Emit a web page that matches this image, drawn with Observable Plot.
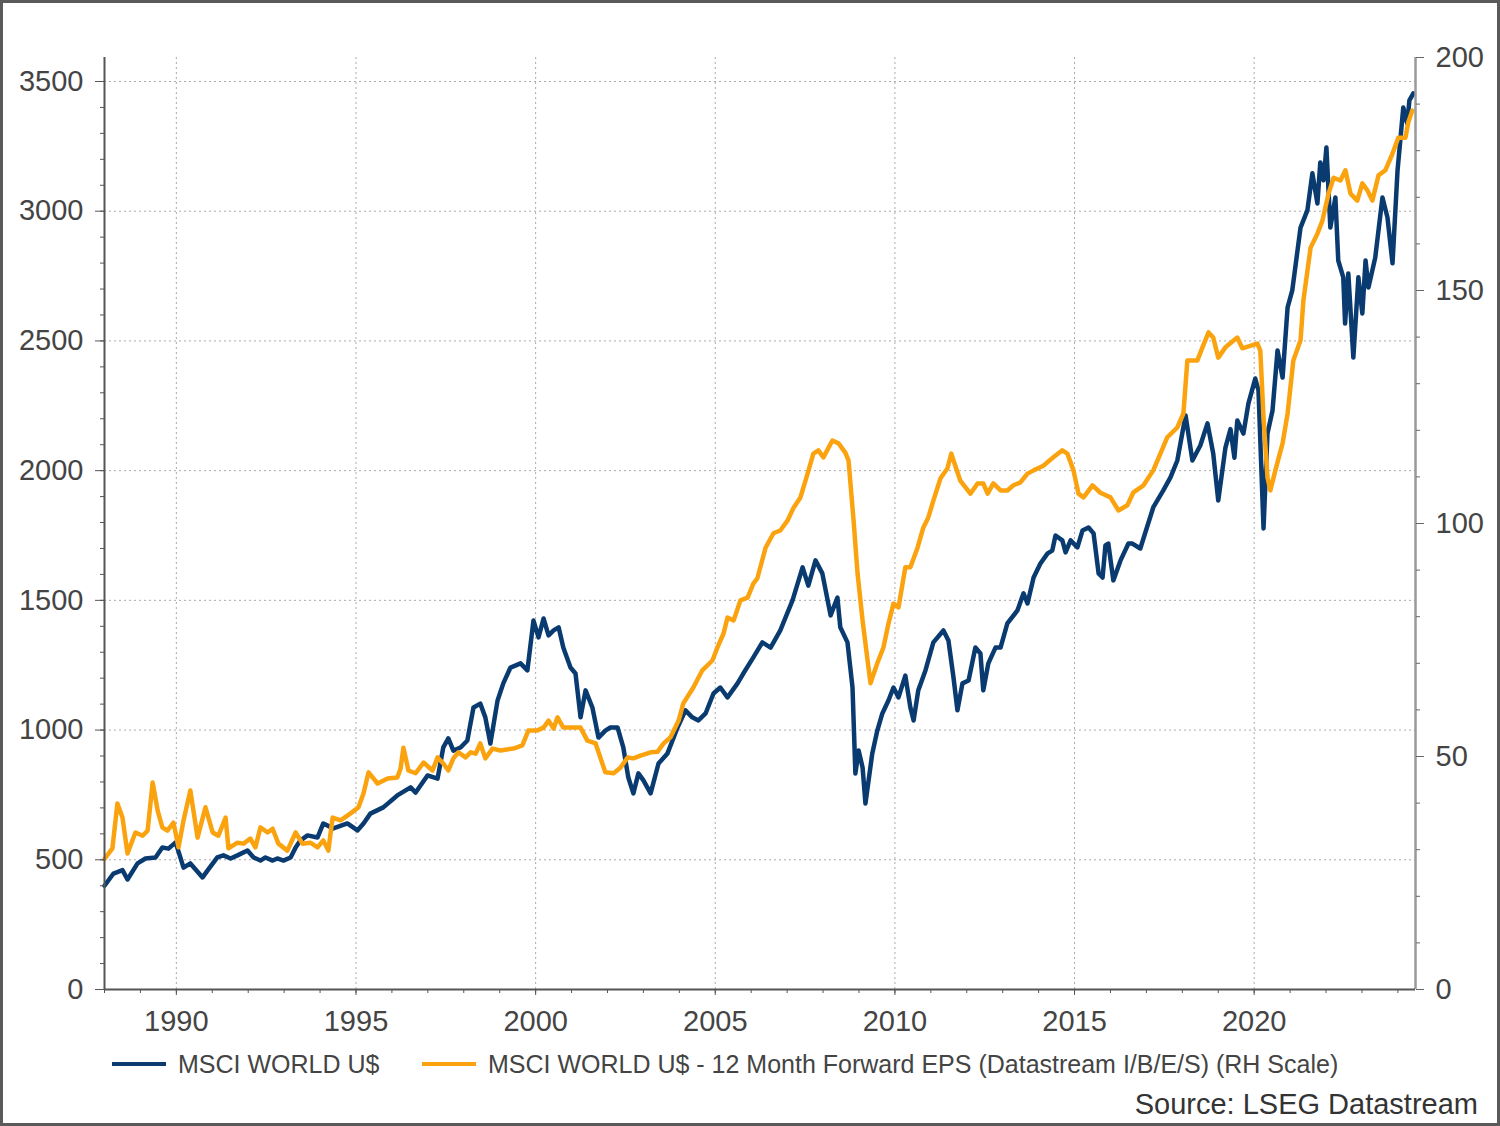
<!DOCTYPE html>
<html><head><meta charset="utf-8">
<script src="https://cdn.jsdelivr.net/npm/d3@7"></script>
<script src="https://cdn.jsdelivr.net/npm/@observablehq/plot@0.6"></script>
<style>
body{margin:0;background:#fff;}
#wrap{position:relative;width:1500px;height:1126px;overflow:hidden;font-family:"Liberation Sans",Arial,sans-serif;color:#444;background:#fff;}
#frame{position:absolute;left:0;top:0;width:1500px;height:1126px;box-sizing:border-box;border:3px solid #5a5a5a;pointer-events:none;}
#chart{position:absolute;left:0;top:0;}
.leg{position:absolute;display:flex;align-items:center;font-size:25px;color:#444;white-space:nowrap;line-height:28px;}
.sw{display:inline-block;width:54px;height:4px;margin-right:12px;}
#source{position:absolute;right:22px;top:1088px;font-size:29px;color:#333;white-space:nowrap;line-height:32px;}
</style></head>
<body><div id="wrap"><div id="chart"></div>
<div class="leg" style="left:112px;top:1050px"><span class="sw" style="background:#0a3b70"></span>MSCI WORLD U$</div>
<div class="leg" style="left:422px;top:1050px"><span class="sw" style="background:#fba20f"></span>MSCI WORLD U$ - 12 Month Forward EPS (Datastream I/B/E/S) (RH Scale)</div>
<div id="source">Source: LSEG Datastream</div>
<div id="frame"></div>
</div>
<script>
const msciYears = [1988.00,1988.25,1988.50,1988.64,1988.92,1989.14,1989.42,1989.61,1989.78,1989.98,1990.20,1990.39,1990.73,1990.87,1991.14,1991.31,1991.51,1991.70,1991.98,1992.15,1992.34,1992.48,1992.68,1992.81,1992.98,1993.18,1993.32,1993.45,1993.65,1993.93,1994.09,1994.37,1994.76,1995.04,1995.21,1995.40,1995.76,1996.15,1996.52,1996.66,1996.99,1997.27,1997.43,1997.57,1997.71,1997.91,1998.10,1998.27,1998.46,1998.60,1998.74,1998.94,1999.10,1999.30,1999.58,1999.77,1999.94,2000.08,2000.22,2000.36,2000.50,2000.64,2000.77,2000.97,2001.11,2001.25,2001.39,2001.58,2001.75,2001.94,2002.08,2002.28,2002.44,2002.58,2002.72,2002.86,2003.00,2003.20,2003.42,2003.67,2003.95,2004.17,2004.36,2004.53,2004.73,2004.95,2005.14,2005.34,2005.62,2005.78,2006.06,2006.31,2006.54,2006.81,2007.15,2007.43,2007.59,2007.79,2007.98,2008.21,2008.40,2008.48,2008.68,2008.82,2008.90,2008.99,2009.10,2009.18,2009.37,2009.51,2009.65,2009.82,2009.96,2010.10,2010.29,2010.43,2010.52,2010.65,2010.85,2011.07,2011.35,2011.49,2011.63,2011.74,2011.88,2012.05,2012.24,2012.38,2012.46,2012.60,2012.80,2012.94,2013.13,2013.41,2013.58,2013.69,2013.86,2014.05,2014.25,2014.38,2014.47,2014.66,2014.75,2014.89,2015.08,2015.22,2015.39,2015.53,2015.67,2015.78,2015.86,2015.94,2016.08,2016.28,2016.50,2016.61,2016.83,2017.19,2017.47,2017.67,2017.86,2018.09,2018.28,2018.50,2018.70,2018.86,2019.00,2019.20,2019.34,2019.45,2019.53,2019.70,2019.84,2020.03,2020.12,2020.26,2020.37,2020.51,2020.65,2020.79,2020.93,2021.06,2021.29,2021.48,2021.62,2021.76,2021.84,2021.93,2022.01,2022.12,2022.26,2022.34,2022.48,2022.53,2022.62,2022.76,2022.90,2023.01,2023.10,2023.18,2023.37,2023.57,2023.71,2023.85,2023.99,2024.15,2024.26,2024.32,2024.43];
const msciValues = [400,447,460,424,486,505,509,547,543,567,470,486,432,459,509,517,505,517,536,509,497,509,497,505,497,509,547,574,594,586,640,621,640,613,640,678,702,748,779,759,825,813,933,968,921,933,960,1087,1102,1049,948,1114,1180,1241,1257,1230,1422,1357,1430,1365,1384,1396,1318,1241,1218,1049,1153,1087,971,998,1010,1010,933,817,756,833,806,756,871,910,1010,1076,1049,1037,1064,1141,1164,1126,1180,1218,1280,1338,1318,1384,1500,1627,1557,1654,1604,1442,1511,1396,1338,1164,833,921,856,717,910,998,1064,1114,1164,1126,1210,1087,1037,1153,1230,1338,1384,1345,1203,1076,1180,1191,1318,1295,1153,1257,1318,1318,1411,1461,1527,1488,1588,1642,1681,1692,1750,1731,1685,1731,1704,1769,1781,1758,1604,1588,1712,1719,1577,1654,1719,1719,1700,1858,1924,1974,2039,2213,2039,2097,2182,2066,1885,2089,2160,2050,2193,2143,2259,2355,2309,1777,2143,2232,2463,2359,2629,2695,2937,3003,3146,3030,3188,3119,3246,2937,3053,2810,2745,2567,2760,2436,2745,2606,2810,2706,2822,3053,2976,2799,3157,3400,3338,3427,3454];

const epsYears = [1988.00,1988.22,1988.36,1988.50,1988.64,1988.86,1989.06,1989.20,1989.34,1989.48,1989.61,1989.75,1989.92,1990.06,1990.20,1990.39,1990.59,1990.81,1991.01,1991.17,1991.37,1991.45,1991.70,1991.87,1992.06,1992.20,1992.34,1992.54,1992.68,1992.84,1993.09,1993.32,1993.51,1993.73,1993.93,1994.09,1994.23,1994.35,1994.57,1994.85,1995.07,1995.21,1995.35,1995.60,1995.88,1996.15,1996.24,1996.32,1996.46,1996.66,1996.88,1997.13,1997.27,1997.43,1997.57,1997.71,1997.85,1998.05,1998.19,1998.33,1998.46,1998.60,1998.80,1999.02,1999.38,1999.63,1999.80,2000.05,2000.22,2000.36,2000.50,2000.61,2000.77,2001.25,2001.44,2001.67,2001.80,2001.94,2002.17,2002.36,2002.56,2002.72,2002.92,2003.20,2003.39,2003.56,2003.75,2003.98,2004.11,2004.39,2004.64,2004.92,2005.06,2005.23,2005.34,2005.51,2005.70,2005.90,2006.06,2006.17,2006.40,2006.62,2006.81,2007.01,2007.18,2007.37,2007.57,2007.73,2007.87,2008.01,2008.26,2008.43,2008.62,2008.71,2008.85,2008.96,2009.10,2009.24,2009.32,2009.51,2009.68,2009.82,2009.96,2010.10,2010.29,2010.43,2010.63,2010.79,2010.93,2011.07,2011.27,2011.46,2011.57,2011.68,2011.82,2012.10,2012.30,2012.46,2012.58,2012.74,2012.94,2013.13,2013.30,2013.49,2013.69,2013.86,2014.13,2014.41,2014.66,2014.80,2014.97,2015.11,2015.25,2015.50,2015.72,2016.00,2016.22,2016.47,2016.64,2016.92,2017.19,2017.39,2017.58,2017.86,2018.03,2018.14,2018.42,2018.56,2018.73,2018.86,2019.00,2019.20,2019.53,2019.67,2020.09,2020.17,2020.26,2020.37,2020.45,2020.59,2020.79,2020.93,2021.09,2021.29,2021.37,2021.57,2021.76,2021.90,2022.07,2022.21,2022.40,2022.54,2022.68,2022.87,2023.01,2023.15,2023.29,2023.46,2023.65,2023.85,2024.01,2024.21,2024.29,2024.40];
const epsValues = [28.0,30.3,39.9,36.9,29.2,33.7,33.0,34.1,44.4,38.4,34.8,34.1,35.8,30.5,36.3,42.7,32.6,39.1,33.7,33.0,36.9,30.3,31.5,31.3,32.4,30.5,34.8,33.7,34.5,31.3,29.8,33.7,31.3,31.5,30.5,32.0,29.8,36.9,36.3,37.8,39.1,42.1,46.6,44.2,45.3,45.5,47.4,51.9,47.0,46.4,48.7,47.0,49.8,48.5,47.0,49.6,50.9,49.8,50.9,50.6,52.8,49.6,51.7,51.3,51.7,52.4,55.6,55.6,56.2,57.7,56.0,58.4,56.2,56.2,53.4,52.8,49.8,46.6,46.4,47.6,49.8,49.6,50.2,50.9,51.0,52.8,54.1,57.7,61.4,64.8,68.5,70.6,73.4,76.4,79.8,79.2,83.5,84.1,87.1,88.2,94.8,97.9,98.5,100.6,103.4,105.6,110.7,115.0,115.7,114.2,117.8,117.2,115.2,113.5,100.6,89.3,79.2,70.6,65.7,70.0,73.4,78.5,82.8,82.0,90.6,90.6,94.8,99.1,101.3,104.9,109.7,111.8,115.0,112.4,109.2,106.4,108.6,108.6,106.4,108.6,107.1,107.1,108.2,108.8,110.7,111.4,112.4,114.2,115.7,115.0,111.4,106.4,105.6,108.2,106.6,105.6,102.8,103.9,106.7,108.2,111.4,115.0,118.5,120.6,123.6,135.0,135.0,137.8,141.0,139.9,135.6,137.8,139.9,137.6,138.6,137.1,122.7,109.9,107.1,111.4,117.2,123.6,135.0,139.3,147.9,159.2,162.2,165.0,170.8,174.2,173.6,175.8,170.8,169.3,173.0,171.5,169.3,174.7,175.8,179.4,182.8,182.8,186.1,188.6];

const leftTicks = [0,500,1000,1500,2000,2500,3000,3500];
const rightTicks = [0,50,100,150,200];
const xTicks = [1990,1995,2000,2005,2010,2015,2020];

const leftMax = 3592.5;          // left scale top (aligned with right 200)
const F = leftMax / 200;         // right-scale conversion factor
const xMin = 1988.0, xMax = 2024.49;

const leftMinor = d3.range(0, 3501, 100);
const rightMinor = d3.range(0, 201, 10);
const xMinor = d3.range(1988, 2025, 1);

const msci = msciYears.map((x, i) => ({x, y: msciValues[i]}));
const eps = epsYears.map((x, i) => ({x, y: epsValues[i] * F}));

const NAVY = "#0a3b70", ORANGE = "#fba20f";

const chart = Plot.plot({
  width: 1500, height: 1040,
  marginLeft: 104, marginRight: 85, marginTop: 57, marginBottom: 51,
  style: {fontFamily: "Liberation Sans, Arial, sans-serif", fontSize: "29px", color: "#444", background: "transparent", overflow: "visible"},
  x: {domain: [xMin, xMax]},
  y: {domain: [0, leftMax]},
  marks: [
    Plot.gridY(leftTicks.filter(d => d > 0), {stroke: "#aaaaaa", strokeOpacity: 1, strokeWidth: 1, strokeDasharray: "2,3"}),
    Plot.gridX(xTicks, {stroke: "#aaaaaa", strokeOpacity: 1, strokeWidth: 1, strokeDasharray: "2,3"}),
    Plot.line(msci, {x: "x", y: "y", stroke: NAVY, strokeWidth: 4.5, strokeLinejoin: "round", strokeLinecap: "round"}),
    Plot.line(eps, {x: "x", y: "y", stroke: ORANGE, strokeWidth: 4.5, strokeLinejoin: "round", strokeLinecap: "round"}),
    Plot.ruleX([xMax], {stroke: "#9a9a9a", strokeWidth: 2.5}),
    Plot.ruleX([xMin], {stroke: "#555", strokeWidth: 2}),
    Plot.ruleY([0], {stroke: "#555", strokeWidth: 2}),
    Plot.axisY(leftMinor, {tickSize: 4, tickFormat: () => "", stroke: "#555", label: null}),
    Plot.axisY(leftTicks, {tickSize: 9, tickPadding: 12, tickFormat: d => String(d), stroke: "#555", fill: "#444", label: null}),
    Plot.axisY(rightMinor.map(v => v * F), {anchor: "right", tickSize: 4, tickFormat: () => "", stroke: "#666", label: null}),
    Plot.axisY(rightTicks.map(v => v * F), {anchor: "right", tickSize: 8, tickPadding: 12, tickFormat: d => String(Math.round(d / F)), stroke: "#666", fill: "#444", label: null}),
    Plot.axisX(xMinor, {tickSize: 4, tickFormat: () => "", stroke: "#555", label: null}),
    Plot.axisX(xTicks, {tickSize: 6, tickPadding: 15, tickFormat: d => String(d), stroke: "#555", fill: "#444", label: null})
  ]
});
document.getElementById("chart").appendChild(chart);
</script>
</body></html>
